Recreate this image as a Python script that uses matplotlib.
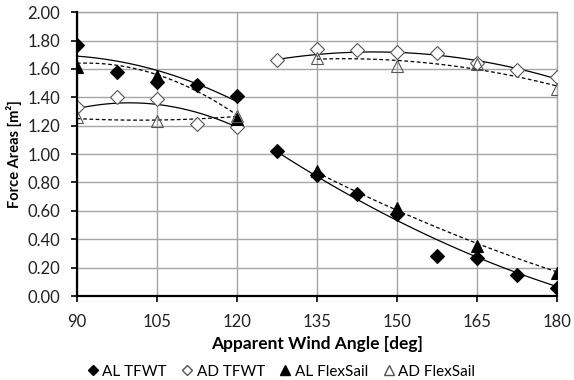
import numpy as np
import matplotlib
matplotlib.use("Agg")
import matplotlib.pyplot as plt
from matplotlib.lines import Line2D

plt.rcParams['font.family'] = ['Lato', 'DejaVu Sans']

# Apparent wind angle [deg] and force areas [m^2]
angle_tfwt = [90, 97.5, 105, 112.5, 120, 127.5, 135, 142.5, 150, 157.5, 165, 172.5, 180]
al_tfwt = [1.77, 1.58, 1.51, 1.49, 1.41, 1.02, 0.85, 0.72, 0.58, 0.28, 0.27, 0.15, 0.06]
ad_tfwt = [1.33, 1.40, 1.385, 1.21, 1.19, 1.66, 1.74, 1.73, 1.72, 1.71, 1.645, 1.59, 1.54]

angle_flex = [90, 105, 120, 135, 150, 165, 180]
al_flex = [1.615, 1.55, 1.245, 0.88, 0.62, 0.355, 0.165]
ad_flex = [1.26, 1.235, 1.27, 1.68, 1.62, 1.635, 1.46]

# Second-order trendline values (low-angle and high-angle regimes)
trend_lo_angle = [90, 105, 120]
trend_lo_al_tfwt = [1.69, 1.59, 1.37]
trend_lo_ad_tfwt = [1.32, 1.35, 1.19]
trend_lo_al_flex = [1.64, 1.56, 1.275]
trend_lo_ad_flex = [1.25, 1.24, 1.265]

trend_hi_angle_tfwt = [127.5, 135, 150, 165, 180]
trend_hi_al_tfwt = [1.02, 0.84, 0.53, 0.28, 0.065]
trend_hi_ad_tfwt = [1.66, 1.71, 1.72, 1.65, 1.533]
trend_hi_angle_flex = [135, 150, 165, 180]
trend_hi_al_flex = [0.87, 0.606, 0.37, 0.171]
trend_hi_ad_flex = [1.67, 1.657, 1.60, 1.479]

x_ticks = [90, 105, 120, 135, 150, 165, 180]
y_ticks = [0.0, 0.2, 0.4, 0.6, 0.8, 1.0, 1.2, 1.4, 1.6, 1.8, 2.0]

fig = plt.figure(figsize=(5.74, 3.80), dpi=100)
ax = fig.add_axes([0.134, 0.221, 0.836, 0.747])


def trend(ax, x, y, ls):
    """Smooth second-order polynomial curve through the trend values."""
    x = np.asarray(x, float)
    c = np.polyfit(x, np.asarray(y, float), 2)
    xs = np.linspace(x.min(), x.max(), 100)
    ax.plot(xs, np.polyval(c, xs), color='black', lw=0.9, ls=ls, zorder=3)


dash = (0, (3, 2))
trend(ax, trend_lo_angle, trend_lo_al_tfwt, '-')
trend(ax, trend_lo_angle, trend_lo_ad_tfwt, '-')
trend(ax, trend_lo_angle, trend_lo_al_flex, dash)
trend(ax, trend_lo_angle, trend_lo_ad_flex, dash)
trend(ax, trend_hi_angle_tfwt, trend_hi_al_tfwt, '-')
trend(ax, trend_hi_angle_tfwt, trend_hi_ad_tfwt, '-')
trend(ax, trend_hi_angle_flex, trend_hi_al_flex, dash)
trend(ax, trend_hi_angle_flex, trend_hi_ad_flex, dash)

ms_d = 7.5
ms_t = 9
ax.plot(angle_tfwt, al_tfwt, ls='none', marker='D', ms=ms_d,
        mfc='black', mec='black', mew=0.8, zorder=4)
ax.plot(angle_tfwt, ad_tfwt, ls='none', marker='D', ms=ms_d,
        mfc='white', mec='#555555', mew=0.8, zorder=4)
ax.plot(angle_flex, al_flex, ls='none', marker='^', ms=ms_t,
        mfc='black', mec='black', mew=0.8, zorder=4)
ax.plot(angle_flex, ad_flex, ls='none', marker='^', ms=ms_t,
        mfc='none', mec='#555555', mew=0.8, zorder=4)

ax.set_xlim(90, 180)
ax.set_ylim(0, 2.0)
ax.set_xticks(x_ticks)
ax.set_yticks(y_ticks)
ax.set_yticklabels([f"{v:.2f}" for v in y_ticks])
ax.grid(True, color='#a6a6a6', lw=1.0)
ax.set_axisbelow(True)

for s in ['top', 'right']:
    ax.spines[s].set_color('#a6a6a6')
    ax.spines[s].set_linewidth(1.0)
for s in ['left', 'bottom']:
    ax.spines[s].set_color('black')
    ax.spines[s].set_linewidth(1.6)
    ax.spines[s].set_zorder(5)

ax.tick_params(axis='both', direction='out', length=4, width=1.2, color='black',
               labelsize=12, labelcolor='#222222')
ax.tick_params(axis='x', pad=9)
ax.tick_params(axis='y', pad=8)

ax.set_xlabel('Apparent Wind Angle [deg]', fontsize=12.5, fontweight='bold', labelpad=4)
ax.set_ylabel('Force Areas [m²]', fontsize=10.5, fontweight='bold', labelpad=4)

handles = [
    Line2D([], [], ls='none', marker='D', ms=5.5, mfc='black', mec='black'),
    Line2D([], [], ls='none', marker='D', ms=5.5, mfc='white', mec='#555555'),
    Line2D([], [], ls='none', marker='^', ms=7, mfc='black', mec='black'),
    Line2D([], [], ls='none', marker='^', ms=7, mfc='white', mec='#555555'),
]
labels = ['AL TFWT', 'AD TFWT', 'AL FlexSail', 'AD FlexSail']
fig.legend(handles, labels, loc='center', bbox_to_anchor=(0.49, 0.022), ncol=4,
           frameon=False, fontsize=11, handlelength=0.7, handletextpad=0.25,
           columnspacing=1.0, borderpad=0)

fig.savefig('out.png', dpi=100)
